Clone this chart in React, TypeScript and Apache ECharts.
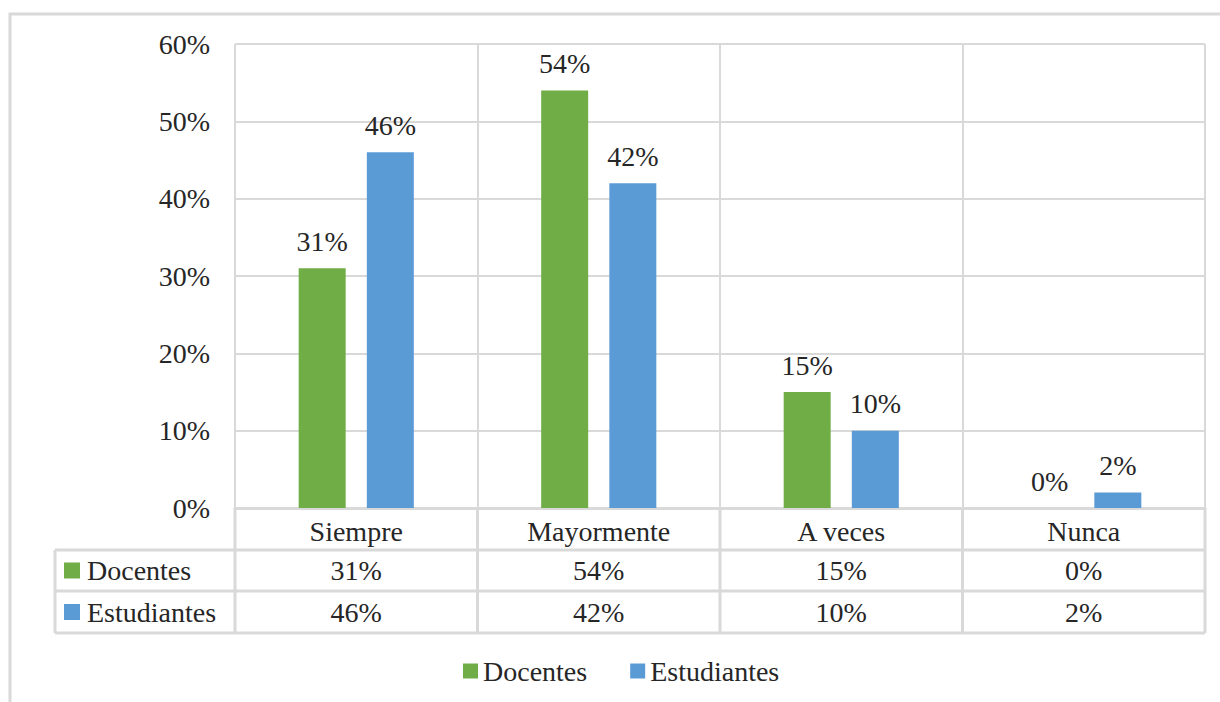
import React, { useEffect, useRef } from "react";
import * as echarts from "echarts";

const categories = ["Siempre", "Mayormente", "A veces", "Nunca"];
const seriesNames = ["Docentes", "Estudiantes"];
const docentes = [31, 54, 15, 0];
const estudiantes = [46, 42, 10, 2];
const yTicks = [0, 10, 20, 30, 40, 50, 60];
const colors = ["#70AD47", "#5B9BD5"];

const W = 1220;
const H = 702;
const GRID_L = 235;
const GRID_R = 1205;
const GRID_T = 44;
const GRID_B = 508;
const ROW1 = 550;
const ROW2 = 591;
const ROW3 = 633;
const TABLE_L = 55;
const FS = 28;
const FONT = "'Liberation Serif', 'Times New Roman', serif";
const LINE = "#d9d9d9";
const TXT = "#262626";

export default function App() {
  const ref = useRef<HTMLDivElement>(null);
  useEffect(() => {
    if (!ref.current) return;
    const chart = echarts.init(ref.current, undefined, { renderer: "svg" });
    const n = categories.length;
    const cw = (GRID_R - GRID_L) / n;
    const graphics: any[] = [];
    graphics.push({
      type: "rect",
      shape: { x: 10, y: 14, width: 1240, height: 720 },
      style: { fill: "none", stroke: LINE, lineWidth: 3 },
      silent: true,
    });
    [ROW1, ROW2, ROW3].forEach((y) => {
      graphics.push({
        type: "line",
        shape: { x1: TABLE_L, y1: y, x2: GRID_R, y2: y },
        style: { stroke: LINE, lineWidth: 3 },
      });
    });
    graphics.push({
      type: "line",
      shape: { x1: TABLE_L, y1: ROW1, x2: TABLE_L, y2: ROW3 },
      style: { stroke: LINE, lineWidth: 3 },
    });
    for (let i = 0; i <= n; i++) {
      const x = GRID_L + i * cw;
      graphics.push({
        type: "line",
        shape: { x1: x, y1: GRID_B, x2: x, y2: ROW3 },
        style: { stroke: LINE, lineWidth: 3 },
      });
    }
    const rows = [docentes, estudiantes];
    const rowCenters = [(ROW1 + ROW2) / 2, (ROW2 + ROW3) / 2];
    rows.forEach((vals, r) => {
      const cy = rowCenters[r];
      graphics.push({
        type: "rect",
        shape: { x: 64, y: cy - 8, width: 16, height: 16 },
        style: { fill: colors[r] },
      });
      graphics.push({
        type: "text",
        x: 87,
        y: cy,
        style: {
          text: seriesNames[r],
          font: `${FS}px ${FONT}`,
          fill: TXT,
          align: "left",
          verticalAlign: "middle",
        },
      });
      vals.forEach((v, i) => {
        graphics.push({
          type: "text",
          x: GRID_L + (i + 0.5) * cw,
          y: cy,
          style: {
            text: `${v}%`,
            font: `${FS}px ${FONT}`,
            fill: TXT,
            align: "center",
            verticalAlign: "middle",
          },
        });
      });
    });

    const labelCfg = {
      show: true,
      position: "top",
      distance: 13,
      formatter: "{c}%",
      fontFamily: FONT,
      fontSize: FS,
      color: TXT,
    };

    chart.setOption({
      animation: false,
      backgroundColor: "#ffffff",
      grid: {
        left: GRID_L,
        right: W - GRID_R,
        top: GRID_T,
        bottom: H - GRID_B,
        containLabel: false,
      },
      legend: {
        data: seriesNames,
        top: 652,
        left: 458,
        padding: [5, 5, 5, 5],
        icon: "rect",
        itemWidth: 15,
        itemHeight: 15,
        itemGap: 43,
        textStyle: { fontFamily: FONT, fontSize: FS, color: TXT },
      },
      xAxis: {
        type: "category",
        data: categories,
        axisLine: { show: true, lineStyle: { color: LINE, width: 3 } },
        axisTick: { show: false },
        axisLabel: {
          fontFamily: FONT,
          fontSize: FS,
          color: TXT,
          margin: 9,
          interval: 0,
        },
        splitLine: { show: true, interval: 0, lineStyle: { color: LINE, width: 2 } },
      },
      yAxis: {
        type: "value",
        min: 0,
        max: 60,
        interval: 10,
        axisLine: { show: false },
        axisTick: { show: false },
        axisLabel: {
          fontFamily: FONT,
          fontSize: FS,
          color: TXT,
          margin: 25,
          formatter: (v: number) => (yTicks.includes(v) ? `${v}%` : ""),
        },
        splitLine: { show: true, lineStyle: { color: LINE, width: 2 } },
      },
      series: [
        {
          name: seriesNames[0],
          type: "bar",
          data: docentes,
          barWidth: 47,
          barGap: "45%",
          itemStyle: { color: colors[0] },
          label: labelCfg,
        },
        {
          name: seriesNames[1],
          type: "bar",
          data: estudiantes,
          barWidth: 47,
          barGap: "45%",
          itemStyle: { color: colors[1] },
          label: labelCfg,
        },
      ],
      graphic: graphics,
    });
    return () => chart.dispose();
  }, []);
  return (
    <div
      ref={ref}
      style={{ position: "fixed", left: 0, top: 0, width: W, height: H, background: "#fff" }}
    />
  );
}
